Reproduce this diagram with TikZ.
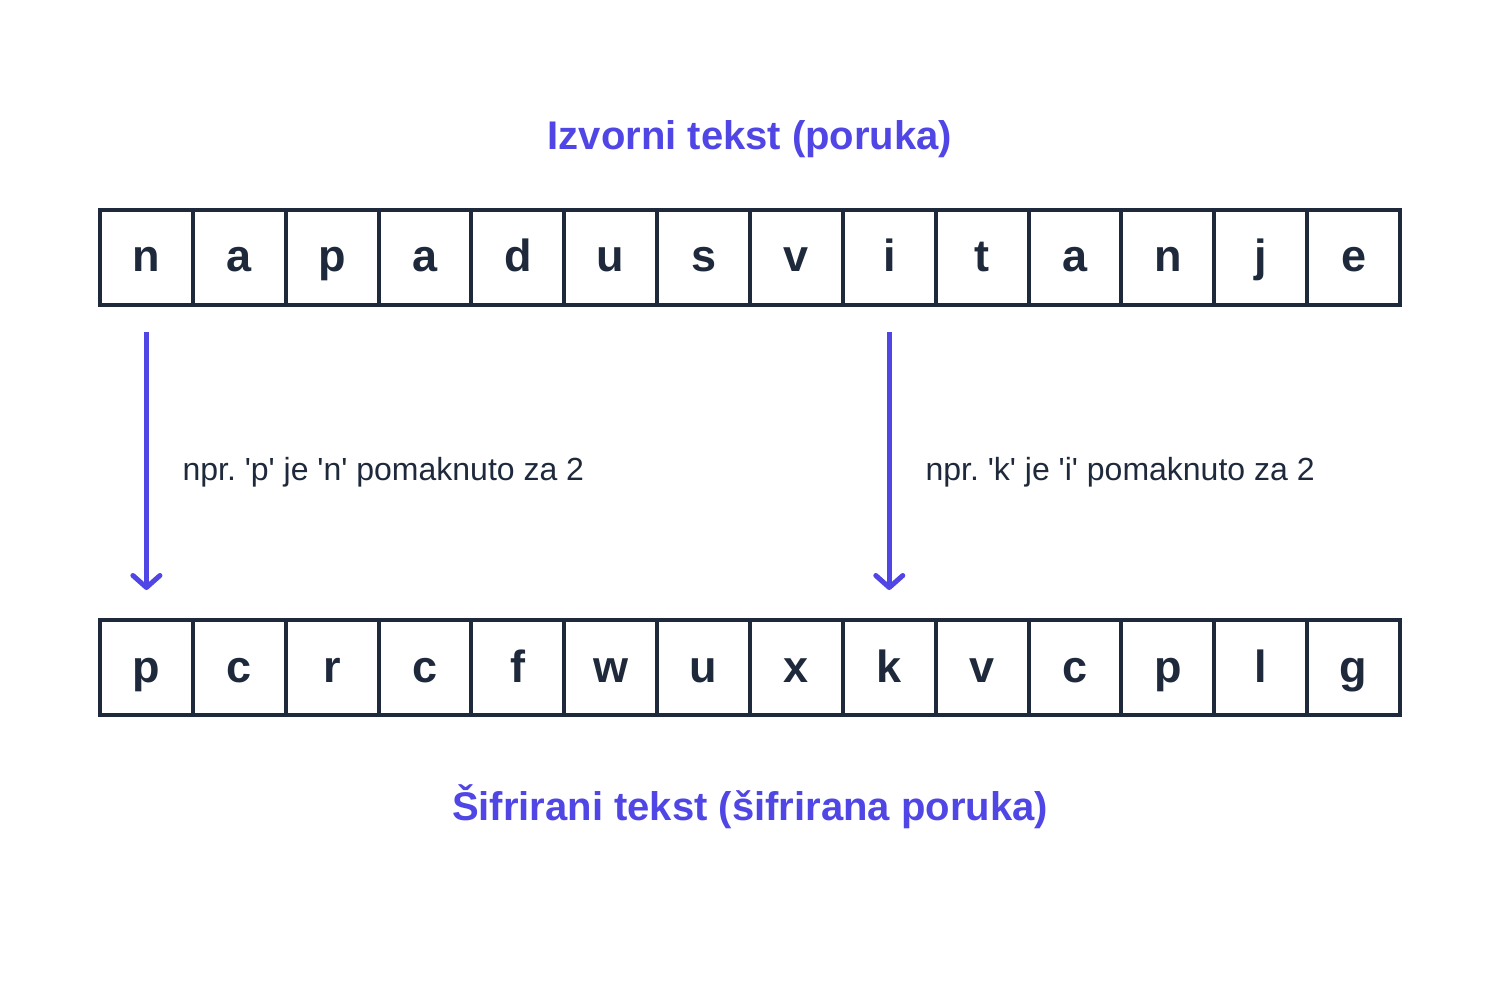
\documentclass[tikz,border=0pt]{standalone}
\usepackage{fontspec}
\setmainfont{Liberation Sans}
\usetikzlibrary{arrows.meta}
\definecolor{accent}{HTML}{4F46E5}
\definecolor{ink}{HTML}{1E293B}
\frenchspacing
\tikzset{
  cell/.style={draw=ink, line width=4pt, minimum width=92.86pt, minimum height=95pt,
    inner sep=0pt, text height=40pt, text depth=11pt, text=ink,
    font=\fontsize{45}{50}\selectfont\bfseries},
  title/.style={text=accent, font=\fontsize{40}{46}\selectfont\bfseries},
  note/.style={text=ink, anchor=west, font=\fontsize{32}{36}\selectfont},
  shiftarrow/.style={draw=accent, line width=5pt,
    -{Straight Barb[length=12pt,width=27pt,round]}}
}
\begin{document}
\begin{tikzpicture}[x=1pt,y=-1pt]
\useasboundingbox (0,0) rectangle (1500,1000);
\node[title] (top) at (750,139) {Izvorni tekst (poruka)};
\node[title] (bot) at (750,807) {Šifrirani tekst (šifrirana poruka)};
\foreach \c [count=\i] in {n,a,p,a,d,u,s,v,i,t,a,n,j,e}
  \node[cell] (t\i) at ({100+(\i-0.5)*92.857},257.5) {\c};
\foreach \c [count=\i] in {p,c,r,c,f,w,u,x,k,v,c,p,l,g}
  \node[cell] (b\i) at ({100+(\i-0.5)*92.857},667.5) {\c};
\draw[shiftarrow] ([yshift=-25pt]t1.south) -- ([yshift=28pt]b1.north);
\draw[shiftarrow] ([yshift=-25pt]t9.south) -- ([yshift=28pt]b9.north);
\node[note] (n1) at (179,472) {npr. \textquotesingle p\textquotesingle\ je \textquotesingle n\textquotesingle\ pomaknuto za 2};
\node[note] (n2) at (922,472) {npr. \textquotesingle k\textquotesingle\ je \textquotesingle i\textquotesingle\ pomaknuto za 2};
\end{tikzpicture}
\end{document}
